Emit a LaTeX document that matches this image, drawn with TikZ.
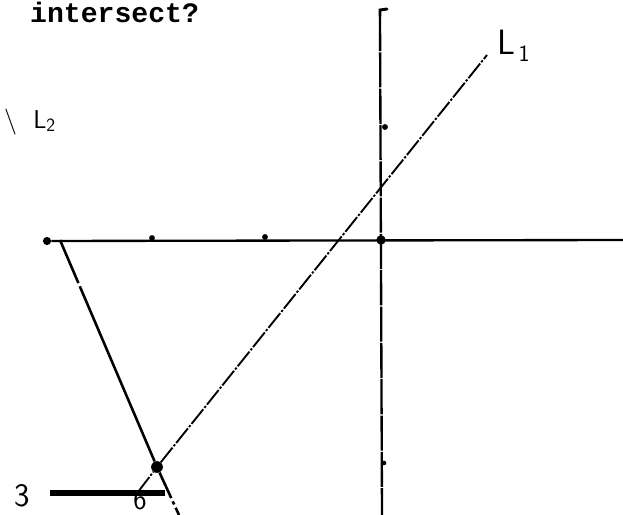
\documentclass[tikz,border=0pt]{standalone}
\usepackage{fontspec}
\setmonofont{Liberation Mono}
\usepackage{tikz}
\usetikzlibrary{positioning, calc}

\begin{document}
\begin{tikzpicture}[
    x=0.03cm, y=-0.03cm,
    axisline/.style={line width=2pt},
    lineone/.style={line width=1.6pt, dash pattern=on 16pt off 1.5pt on 2pt off 1.5pt},
    linetwo/.style={line width=2.2pt},
    dotpt/.style={circle, fill=black, inner sep=0pt, minimum size=10pt},
    tickpt/.style={circle, fill=black, inner sep=0pt, minimum size=5pt},
    hand/.style={font=\sffamily\fontsize{28}{28}\selectfont, inner sep=0pt}
]
\useasboundingbox (0,0) rectangle (623,515);

% question text
\node[anchor=base west, inner sep=0pt, font=\ttfamily\bfseries\fontsize{24}{24}\selectfont] (qtext) at (30,23) {intersect?};

% axes
\coordinate (xleft) at (47,241);
\coordinate (xright) at (623,240);
\coordinate (ytop) at (380,16);
\coordinate (ybot) at (382,515);
\node[tickpt, minimum size=7pt] (xend) at (xleft) {};
\draw[axisline] (xend) -- (xright);
\draw[axisline, dash pattern=on 30pt off 1pt] (ytop) -- (ybot);
\draw[line width=2.5pt, line cap=round] (ytop) -- (380,10) -- (387,9);
\node[dotpt, minimum size=8pt] (orig) at (381,240) {};
\node[tickpt] (ytick1) at (385,127) {};
\node[tickpt, minimum size=4pt] (ytick2) at (384,463) {};
\node[tickpt, minimum size=5pt] (xtick1) at (152,238) {};
\node[tickpt, minimum size=5pt] (xtick2) at (265,237) {};

% the two lines
\node[dotpt] (meet) at (157,467) {};
\coordinate (onelow) at (138,492);
\coordinate (onehigh) at (487,55);
\coordinate (twotop) at (60,240);
\coordinate (twolow) at (179,515);
\draw[lineone] (onelow) -- (meet) -- (onehigh);
\draw[linetwo, dash pattern=on 40pt off 3pt on 200pt off 0pt] (twotop) -- (meet);
\draw[linetwo, dash pattern=on 24pt off 3pt on 3pt off 3pt] (meet) -- (twolow);

\node[hand, anchor=west, font=\sffamily\fontsize{30}{30}\selectfont] (labone) at (497,46) {L\kern3pt\raisebox{-6pt}{\fontsize{20}{20}\selectfont 1}};
\node[hand, anchor=west, font=\sffamily\fontsize{22}{22}\selectfont] (labtwo) at (4,122) {\textbackslash\ \ L\raisebox{-3pt}{\fontsize{16}{16}\selectfont 2}};

% bottom left mark
\node[hand, anchor=west] (three) at (14,496) {3};
\coordinate (barleft) at (50,493);
\coordinate (barright) at (165,493);
\draw[line width=4.5pt] (barleft) -- (barright);
\node[hand, anchor=south, font=\sffamily\fontsize{24}{24}\selectfont] (six) at (140,510) {6};
\end{tikzpicture}
\end{document}
